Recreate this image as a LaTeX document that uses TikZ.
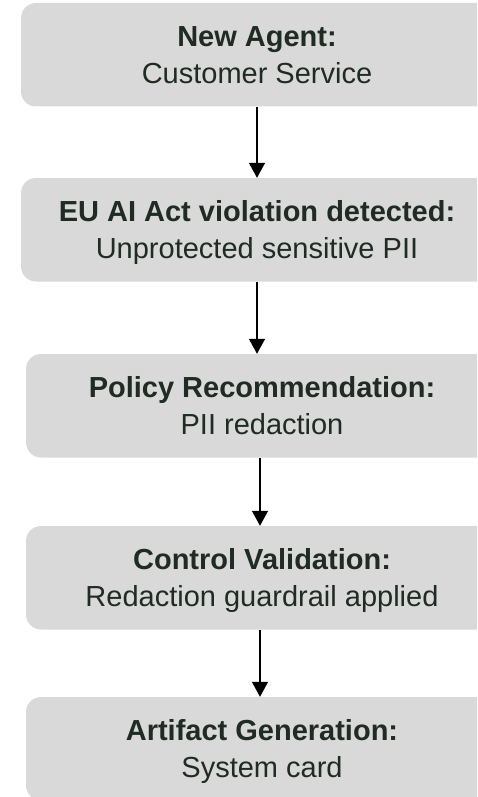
\documentclass[tikz,border=0pt]{standalone}
\usepackage{fontspec}
\setmainfont{Liberation Sans}
\usetikzlibrary{arrows.meta}
\definecolor{boxgray}{HTML}{D9D9D9}
\definecolor{txtcol}{HTML}{1F2B23}
\tikzset{
  stepbox/.style={rectangle, rounded corners=15pt, fill=boxgray, draw=none,
    minimum width=472pt, minimum height=103.5pt, inner sep=0pt},
  ttl/.style={anchor=base, inner sep=0pt, text=txtcol, font=\fontsize{29}{37}\selectfont\bfseries},
  sub/.style={anchor=base, inner sep=0pt, text=txtcol, font=\fontsize{29}{37}\selectfont},
  flow/.style={line width=1.3pt, -{Triangle[width=16pt,length=15pt]}}
}
\begin{document}
\begin{tikzpicture}[x=1pt,y=1pt]
\useasboundingbox (0,0) rectangle (477,-797);
\clip (0,0) rectangle (477,-797);
\node[stepbox] (b1) at (257,-54.75) {};
\node[stepbox] (b2) at (257,-229.75) {};
\node[stepbox] (b3) at (262,-405.75) {};
\node[stepbox] (b4) at (262,-577.75) {};
\node[stepbox] (b5) at (262,-748.75) {};
\foreach \b/\t/\s in {b1/New Agent:/Customer Service,
  b2/EU AI Act violation detected:/Unprotected sensitive PII,
  b3/Policy Recommendation:/PII redaction,
  b4/Control Validation:/Redaction guardrail applied,
  b5/Artifact Generation:/System card}{
  \node[ttl] (\b t) at ([yshift=-44pt]\b.north) {\t};
  \node[sub] (\b s) at ([yshift=-80.5pt]\b.north) {\s};
}
\draw[flow] (b1.south) -- (b2.north);
\draw[flow] (b2.south) -- (b2.south |- b3.north);
\draw[flow] ([xshift=-2pt]b3.south) -- ([xshift=-2pt]b4.north);
\draw[flow] ([xshift=-2pt]b4.south) -- ([xshift=-2pt]b5.north);
\end{tikzpicture}
\end{document}
